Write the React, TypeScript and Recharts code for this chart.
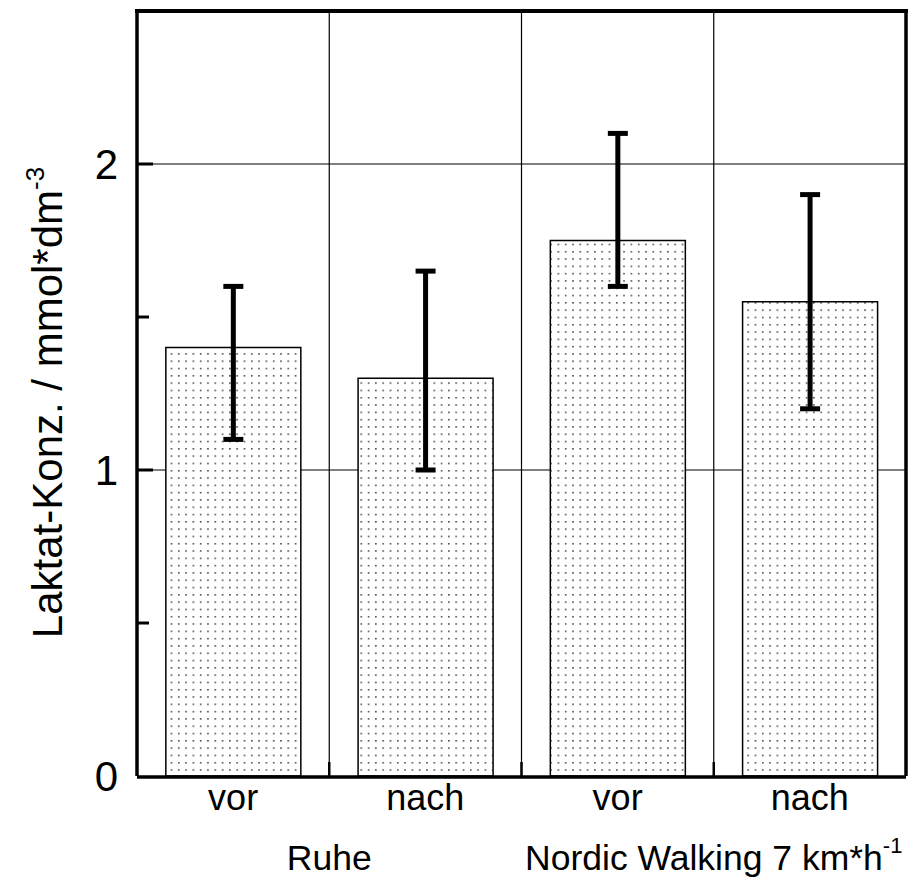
import React from 'react';
import { ComposedChart, Bar, ErrorBar, XAxis, YAxis, CartesianGrid } from 'recharts';

const categories = ['Ruhe vor', 'Ruhe nach', 'NW vor', 'NW nach'];
const phases = ['vor', 'nach', 'vor', 'nach'];
const groups = ['Ruhe', 'Ruhe', 'Nordic Walking 7 km*h', 'Nordic Walking 7 km*h'];
const groupSup: Record<string, string> = { 'Nordic Walking 7 km*h': '-1' };
const means = [1.4, 1.3, 1.75, 1.55];
const errLow = [0.3, 0.3, 0.15, 0.35];
const errHigh = [0.2, 0.35, 0.35, 0.35];
const yTicks = [0, 0.5, 1, 1.5, 2];
const yLabels = [0, 1, 2];
const gridValues = [1, 2];
const boundaryTicks = [1, 2, 3];
const yDomain = [0, 2.5];

const data = categories.map((key, i) => ({
  key,
  group: groups[i],
  mean: means[i],
  err: [errLow[i], errHigh[i]],
}));

const FONT = '"Liberation Sans", Arial, Helvetica, sans-serif';
const TICK_GAP = 19;
const CHART_W = 924;
const CHART_H = 879;
const MARGIN = { top: 11, right: 17, bottom: 0, left: 0 };
const YAXIS_W = 137;
const RAXIS_W = 1;
const FRAME_W = 3.5;

// y tick: label outside, tick mark pointing into the plot
const YTick = (props: any) => {
  const { x, y, payload } = props;
  const axisX = x + TICK_GAP;
  const major = yLabels.includes(payload.value);
  return (
    <g>
      {payload.value !== 0 && (
        <line x1={axisX} x2={axisX + (major ? 16 : 12)} y1={y} y2={y} stroke="#000" strokeWidth={3} />
      )}
      {major && (
        <text x={x} y={y} dy="0.36em" textAnchor="end" fontSize={42} fontFamily={FONT} fill="#000">
          {payload.value}
        </text>
      )}
    </g>
  );
};

// short inward tick at category boundaries on the bottom frame
const BoundTick = (props: any) => {
  const { x, y } = props;
  return <line x1={x} x2={x} y1={y} y2={y - 14} stroke="#000" strokeWidth={2.5} />;
};

const PhaseTick = (props: any) => {
  const { x, y, payload } = props;
  const idx = categories.indexOf(payload.value);
  return (
    <text x={x} y={y + 33} textAnchor="middle" fontSize={36} fontFamily={FONT} fill="#000">
      {phases[idx]}
    </text>
  );
};

const GroupTick = (props: any) => {
  const { x, y, payload } = props;
  const sup = groupSup[payload.value];
  return (
    <text x={x} y={y + 38} textAnchor="middle" fontSize={35.5} fontFamily={FONT} fill="#000">
      {payload.value}
      {sup && (
        <tspan dy={-17} fontSize={22}>
          {sup}
        </tspan>
      )}
    </text>
  );
};

const YLabel = (props: any) => {
  const vb = props.viewBox || {};
  const left = Number.isFinite(vb.x) ? vb.x : MARGIN.left;
  const top = Number.isFinite(vb.y) ? vb.y : MARGIN.top;
  const h = Number.isFinite(vb.height) ? vb.height : 765;
  const cx = left + 62;
  const cy = top + h / 2 + 9;
  return (
    <text
      x={cx}
      y={cy}
      transform={`rotate(-90, ${cx}, ${cy})`}
      textAnchor="middle"
      fontSize={42}
      fontFamily={FONT}
      fill="#000"
    >
      Laktat-Konz. / mmol*dm
      <tspan dy={-18} fontSize={26}>-3</tspan>
    </text>
  );
};

// vertical grid at the category boundaries
const boundaryGrid = ({ offset }: any) =>
  boundaryTicks.map((b) => offset.left + (offset.width * b) / categories.length);

// top edge of the frame box
const plotLeft = MARGIN.left + YAXIS_W;
const plotRight = CHART_W - MARGIN.right - RAXIS_W;

export default function App() {
  return (
    <div style={{ position: 'fixed', left: 0, top: 0, width: CHART_W, height: CHART_H, overflow: 'hidden', background: '#fff' }}>
      <ComposedChart width={CHART_W} height={CHART_H} data={data} margin={MARGIN} barCategoryGap="15%">
        <defs>
          <pattern id="dots" width={7.3} height={7.3} patternUnits="userSpaceOnUse">
            <rect width={7.3} height={7.3} fill="#fff" />
            <circle cx={3.6} cy={3.6} r={0.75} fill="#000" />
          </pattern>
        </defs>
        <CartesianGrid
          xAxisId={2}
          yAxisId="left"
          horizontalValues={gridValues}
          verticalCoordinatesGenerator={boundaryGrid}
          stroke="#000"
          strokeWidth={1.2}
        />
        <XAxis
          xAxisId={1}
          type="number"
          dataKey="mean"
          domain={[0, 4]}
          allowDataOverflow
          ticks={boundaryTicks}
          height={1}
          tickSize={0}
          tickMargin={0}
          tick={<BoundTick />}
          tickLine={false}
          axisLine={false}
          interval={0}
        />
        <XAxis
          xAxisId={2}
          dataKey="key"
          height={55}
          tickSize={0}
          tickMargin={0}
          tick={<PhaseTick />}
          tickLine={false}
          axisLine={{ stroke: '#000', strokeWidth: FRAME_W }}
          interval={0}
        />
        <XAxis
          xAxisId={3}
          dataKey="group"
          allowDuplicatedCategory={false}
          height={47}
          tickSize={0}
          tickMargin={0}
          tick={<GroupTick />}
          tickLine={false}
          axisLine={false}
          interval={0}
        />
        <YAxis
          yAxisId="left"
          domain={yDomain}
          ticks={yTicks}
          width={YAXIS_W}
          tickSize={0}
          tickMargin={TICK_GAP}
          tick={<YTick />}
          tickLine={false}
          axisLine={{ stroke: '#000', strokeWidth: FRAME_W }}
          interval={0}
          label={{ content: (p: any) => <YLabel {...p} /> }}
        />
        <YAxis
          yAxisId="right"
          orientation="right"
          dataKey="mean"
          domain={yDomain}
          allowDataOverflow
          width={RAXIS_W}
          tick={false}
          tickLine={false}
          axisLine={{ stroke: '#000', strokeWidth: FRAME_W }}
        />
        <Bar
          xAxisId={2}
          yAxisId="left"
          dataKey="mean"
          fill="url(#dots)"
          stroke="#000"
          strokeWidth={1.5}
          isAnimationActive={false}
        >
          <ErrorBar dataKey="err" width={10} strokeWidth={5} stroke="#000" isAnimationActive={false} />
        </Bar>
      </ComposedChart>
      <div
        style={{
          position: 'absolute',
          left: plotLeft - FRAME_W / 2,
          top: MARGIN.top - FRAME_W / 2,
          width: plotRight - plotLeft + FRAME_W,
          height: FRAME_W,
          background: '#000',
          pointerEvents: 'none',
        }}
      />
    </div>
  );
}
